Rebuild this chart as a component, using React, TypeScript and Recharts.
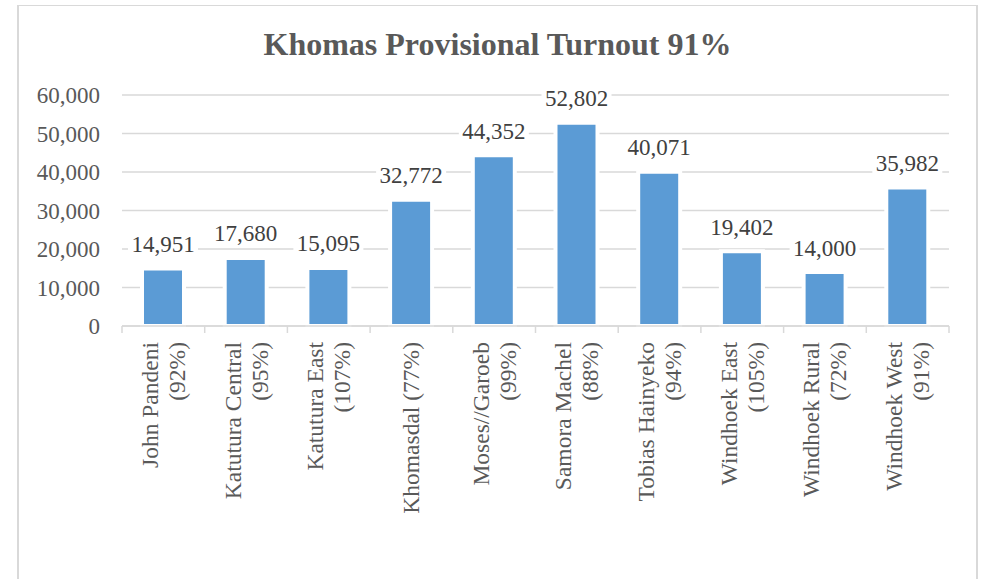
import React from 'react';
import { Bar, BarChart, CartesianGrid, LabelList, XAxis, YAxis } from 'recharts';

const constituencies = [
  'John Pandeni',
  'Katutura Central',
  'Katutura East',
  'Khomasdal',
  'Moses//Garoeb',
  'Samora Machel',
  'Tobias Hainyeko',
  'Windhoek East',
  'Windhoek Rural',
  'Windhoek West',
];

const turnout = ['92%', '95%', '107%', '77%', '99%', '88%', '94%', '105%', '72%', '91%'];

const voters = [14951, 17680, 15095, 32772, 44352, 52802, 40071, 19402, 14000, 35982];

// how each category label wraps in the original
const tickLabels = [
  ['John Pandeni', '(92%)'],
  ['Katutura Central', '(95%)'],
  ['Katutura East', '(107%)'],
  ['Khomasdal (77%)'],
  ['Moses//Garoeb', '(99%)'],
  ['Samora Machel', '(88%)'],
  ['Tobias Hainyeko', '(94%)'],
  ['Windhoek East', '(105%)'],
  ['Windhoek Rural', '(72%)'],
  ['Windhoek West', '(91%)'],
];

const yTicks = [0, 10000, 20000, 30000, 40000, 50000, 60000];

const data = constituencies.map((name, i) => ({
  name: `${name} (${turnout[i]})`,
  voters: voters[i],
}));

const FONT = '"Liberation Serif", "Times New Roman", serif';
const GRID = '#d9d9d9';
const PLOT_W = 827;
const BAND = PLOT_W / constituencies.length;

const fmt = (v: number) => v.toLocaleString('en-US');

const CategoryTick = (props: any) => {
  const { x, y, payload, index } = props;
  const idx = typeof index === 'number' ? index : payload.index;
  const lines = tickLabels[idx] || [String(payload.value)];
  const n = lines.length;
  return (
    <g>
      <line x1={x - BAND / 2} x2={x - BAND / 2} y1={y} y2={y + 7} stroke={GRID} strokeWidth={1.5} />
      {idx === constituencies.length - 1 && (
        <line x1={x + BAND / 2} x2={x + BAND / 2} y1={y} y2={y + 7} stroke={GRID} strokeWidth={1.5} />
      )}
      {lines.map((line, i) => (
        <text
          key={i}
          x={0}
          y={8 + (i - (n - 1) / 2) * 27}
          textAnchor="end"
          transform={`translate(${x},${y + 16}) rotate(-90)`}
          fontFamily={FONT}
          fontSize={23.5}
          fill="#595959"
        >
          {line}
        </text>
      ))}
    </g>
  );
};

const ValueLabel = (props: any) => {
  const { x, y, width, value } = props;
  const cx = x + width / 2;
  const base = y - 16.5;
  const txt = fmt(value);
  const w = txt.length * 11 + 4;
  return (
    <g>
      <rect x={cx - w / 2} y={base - 18} width={w} height={23} fill="#fff" />
      <text x={cx} y={base} textAnchor="middle" fontFamily={FONT} fontSize={23} fill="#404040">
        {txt}
      </text>
    </g>
  );
};

const App: React.FC = () => {
  return (
    <div style={{ position: 'absolute', left: 0, top: 0, width: 984, height: 579 }}>
      <div
        style={{
          position: 'absolute',
          left: 17,
          top: 5,
          width: 961,
          height: 574,
          boxSizing: 'border-box',
          borderLeft: `2px solid ${GRID}`,
          borderRight: `2px solid ${GRID}`,
          borderTop: `1px solid ${GRID}`,
        }}
      />
      <div
        style={{
          position: 'absolute',
          left: 17,
          top: 29,
          width: 961,
          textAlign: 'center',
          fontFamily: FONT,
          fontSize: 32,
          fontWeight: 'bold',
          lineHeight: '31px',
          color: '#595959',
        }}
      >
        Khomas Provisional Turnout 91%
      </div>
      <div style={{ position: 'absolute', left: 0, top: 0 }}>
        <BarChart
          width={984}
          height={579}
          data={data}
          margin={{ top: 95, right: 35, left: 0, bottom: 0 }}
          barSize={42}
        >
          <CartesianGrid vertical={false} stroke={GRID} strokeWidth={1.5} />
          <YAxis
            width={122}
            domain={[0, 60000]}
            ticks={yTicks}
            axisLine={false}
            tickLine={false}
            tickSize={0}
            tickMargin={22}
            tickFormatter={fmt}
            tick={{ fontFamily: FONT, fontSize: 23, fill: '#595959' }}
          />
          <Bar dataKey="voters" fill="#5B9BD5" stroke="#fff" strokeWidth={4} isAnimationActive={false}>
            <LabelList dataKey="voters" content={ValueLabel} />
          </Bar>
          <XAxis
            dataKey="name"
            height={253}
            interval={0}
            axisLine={{ stroke: GRID, strokeWidth: 1.5 }}
            tickLine={false}
            tickSize={0}
            tickMargin={0}
            tick={<CategoryTick />}
          />
        </BarChart>
      </div>
    </div>
  );
};

export default App;
